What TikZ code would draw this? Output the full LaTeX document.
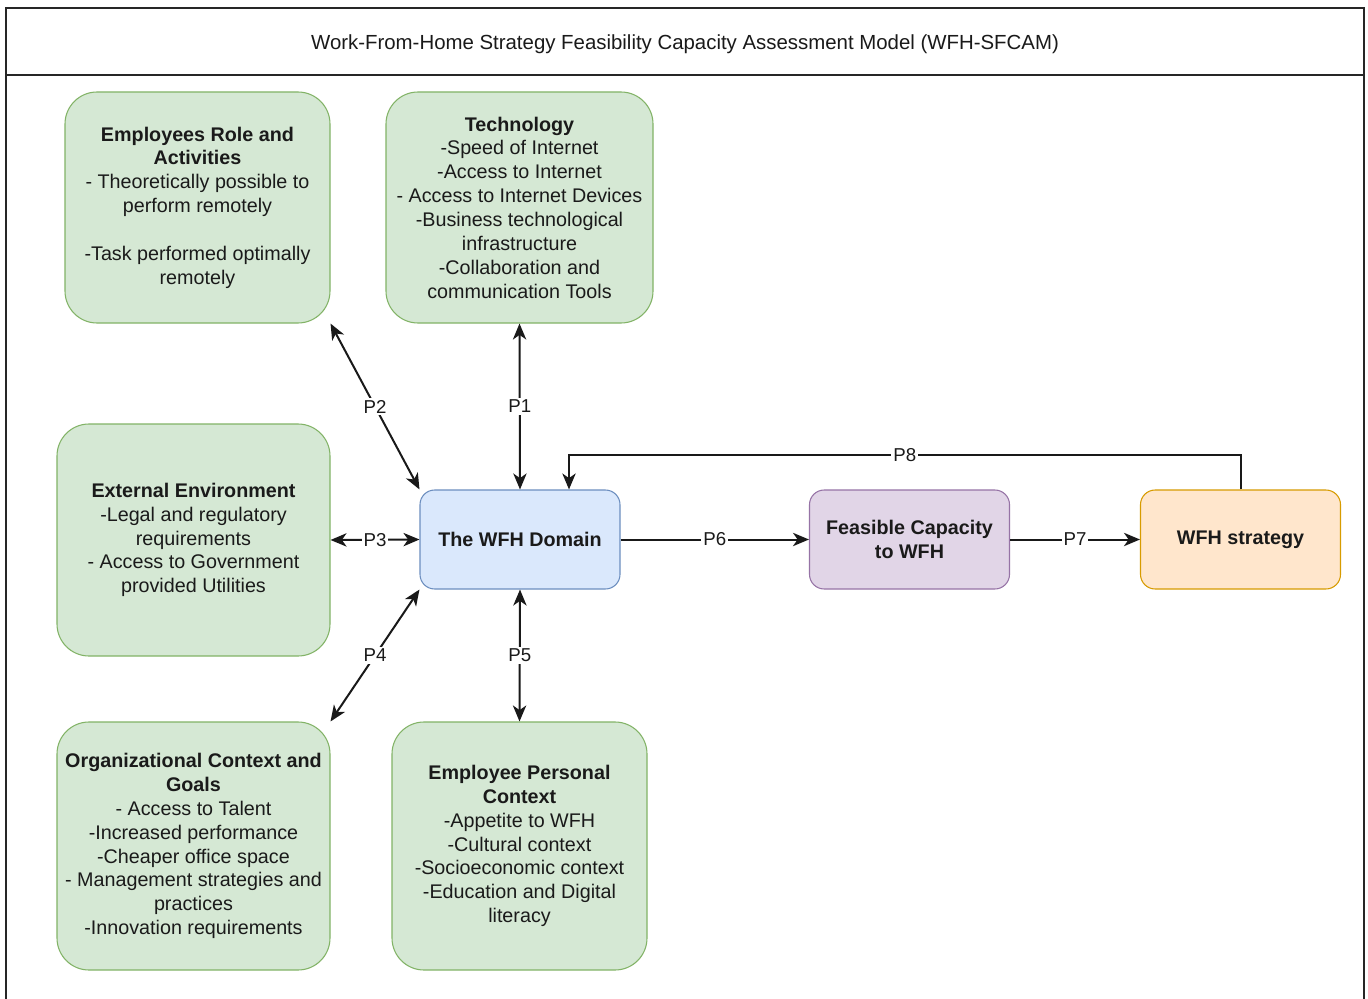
\documentclass[tikz,border=0pt]{standalone}
\usepackage{fontspec}
\setmainfont{Liberation Sans}
\usetikzlibrary{arrows.meta,calc}
\definecolor{gfill}{HTML}{D5E8D4}
\definecolor{gstroke}{HTML}{82B366}
\definecolor{bfill}{HTML}{DAE8FC}
\definecolor{bstroke}{HTML}{6C8EBF}
\definecolor{pfill}{HTML}{E1D5E7}
\definecolor{pstroke}{HTML}{9673A6}
\definecolor{ofill}{HTML}{FFE6CC}
\definecolor{ostroke}{HTML}{D79B00}
\definecolor{txt}{HTML}{1A1A1A}
\begin{document}
\begin{tikzpicture}[x=0.75pt,y=-0.75pt,
  font=\fontsize{14.8pt}{17.9pt}\selectfont, text=txt,
  box/.style={draw, align=center, inner sep=0pt, line width=0.8pt},
  greenbox/.style={box, draw=gstroke, fill=gfill, rounded corners=24pt},
  smallbox/.style={box, rounded corners=11pt, minimum width=150pt, minimum height=74.25pt, font=\fontsize{14.8pt}{17.9pt}\selectfont\bfseries},
  arrowtip/.tip={Stealth[length=12pt,width=10pt,inset=3.5pt]},
  conn/.style={line width=1.5pt, draw=black!90, -arrowtip},
  bconn/.style={line width=1.5pt, draw=black!90, arrowtip-arrowtip},
  plabel/.style={fill=white, inner sep=1.5pt, text=txt, font=\fontsize{14pt}{16pt}\selectfont}
]
\useasboundingbox (0,0) rectangle (1368,999);
\fill[white] (0,0) rectangle (1368,999);
\draw[line width=1.3pt, draw=black!85] (6,999) -- (6,8) -- (1364,8) -- (1364,999);
\draw[line width=1.3pt, draw=black!85] (6,75) -- (1364,75);
\node (title) at (685,44) {\fontsize{15.3pt}{18pt}\selectfont Work-From-Home Strategy Feasibility Capacity Assessment Model (WFH-SFCAM)};

\node[greenbox, minimum width=198.75pt, minimum height=173.25pt] (er) at (197.5,207.5)
  {\textbf{Employees Role and}\\\textbf{Activities}\\- Theoretically possible to\\perform remotely\\[17.9pt]-Task performed optimally\\remotely};
\node[greenbox, minimum width=200.25pt, minimum height=173.25pt] (tech) at (519.5,207.5)
  {\textbf{Technology}\\-Speed of Internet\\-Access to Internet\\- Access to Internet Devices\\-Business technological\\infrastructure\\-Collaboration and\\communication Tools};
\node[greenbox, minimum width=204.75pt, minimum height=174pt] (ext) at (193.5,540)
  {\textbf{External Environment}\\-Legal and regulatory\\requirements\\- Access to Government\\provided Utilities};
\node[greenbox, minimum width=204.75pt, minimum height=186pt] (org) at (193.5,846)
  {\textbf{Organizational Context and}\\\textbf{Goals}\\- Access to Talent\\-Increased performance\\-Cheaper office space\\- Management strategies and\\practices\\-Innovation requirements};
\node[greenbox, minimum width=191.25pt, minimum height=186pt] (pers) at (519.5,846)
  {\textbf{Employee Personal}\\\textbf{Context}\\-Appetite to WFH\\-Cultural context\\-Socioeconomic context\\-Education and Digital\\literacy};

\node[smallbox, draw=bstroke, fill=bfill] (wfh) at (520,539.5) {The WFH Domain};
\node[smallbox, draw=pstroke, fill=pfill] (feas) at (909.5,539.5) {Feasible Capacity\\to WFH};
\node[smallbox, draw=ostroke, fill=ofill] (strat) at (1240.5,539.5) {WFH strategy};

\draw[bconn] (tech.south) -- node[plabel]{P1} (wfh.north);
\draw[bconn] (er.south east) -- node[plabel]{P2} (wfh.north west);
\draw[bconn] (ext.east) -- node[plabel]{P3} (wfh.west);
\draw[bconn] (wfh.south west) -- node[plabel]{P4} (org.north east);
\draw[bconn] (wfh.south) -- node[plabel]{P5} (pers.north);
\draw[conn] (wfh.east) -- node[plabel]{P6} (feas.west);
\draw[conn] (feas.east) -- node[plabel]{P7} (strat.west);
\draw[conn] (strat.north) -- ++(0,-34) -| node[plabel, pos=0.25]{P8} ($(wfh.north)+(49,0)$);
\end{tikzpicture}
\end{document}
